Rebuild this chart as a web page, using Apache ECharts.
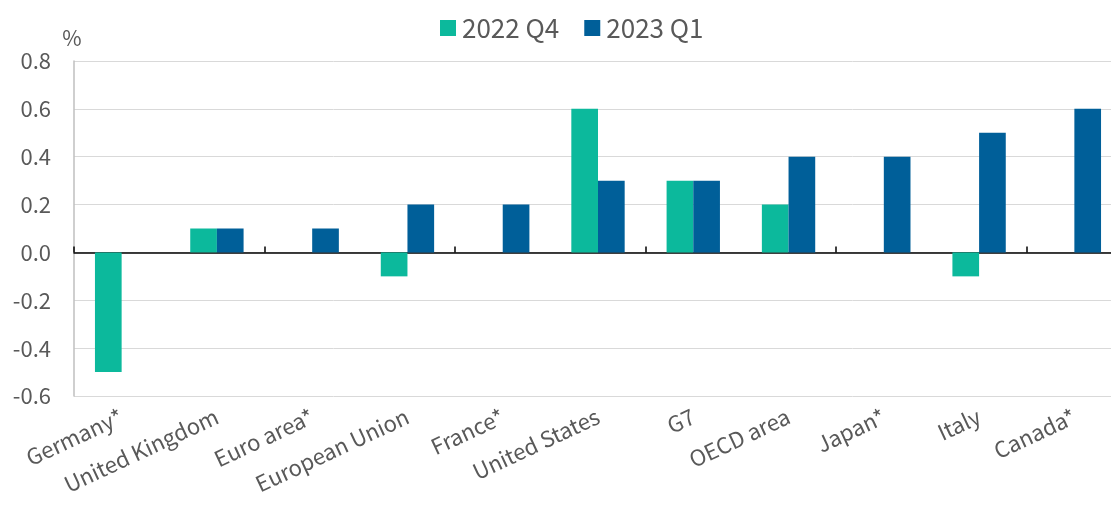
<!DOCTYPE html>
<html><head><meta charset="utf-8">
<script src="https://cdn.jsdelivr.net/npm/echarts@6/dist/echarts.min.js"></script>
<style>html,body{margin:0;padding:0;background:#fff}#c{width:1111px;height:506px}</style>
</head><body><div id="c"></div>
<script>
const categories = ["Germany*","United Kingdom","Euro area*","European Union","France*","United States","G7","OECD area","Japan*","Italy","Canada*"];
const q4_2022 = [-0.5, 0.1, 0, -0.1, 0, 0.6, 0.3, 0.2, 0, -0.1, 0];
const q1_2023 = [0, 0.1, 0.1, 0.2, 0.2, 0.3, 0.3, 0.4, 0.4, 0.5, 0.6];
const yTicks = { min: -0.6, max: 0.8, interval: 0.2 };
const font = '"Noto Sans CJK JP","Noto Sans",sans-serif';
const txt = '#595959';
const chart = echarts.init(document.getElementById('c'));
chart.setOption({
  animation: false,
  textStyle: { fontFamily: font },
  legend: {
    top: 15, left: 440, padding: 0, itemWidth: 16, itemHeight: 16, itemGap: 25,
    icon: 'rect',
    textStyle: { fontSize: 26, color: txt, fontFamily: font, padding: [0, 0, 0, 1] },
    data: ['2022 Q4', '2023 Q1']
  },
  grid: { left: 74, width: 1048, top: 61, bottom: 110, containLabel: false, outerBoundsMode: 'none' },
  xAxis: [{
    type: 'category', data: categories, position: 'bottom',
    axisLine: { show: false, onZero: false }, axisTick: { show: false },
    axisLabel: { rotate: 25, fontSize: 22, color: txt, fontFamily: font, margin: 19, interval: 0 }
  }, {
    type: 'category', data: categories, position: 'top',
    axisLine: { show: true, onZero: true, lineStyle: { color: '#000', width: 1.5 } },
    axisTick: { show: true, inside: false, length: 6, lineStyle: { color: '#000', width: 1.5 } },
    axisLabel: { show: false }
  }],
  yAxis: {
    type: 'value', min: yTicks.min, max: yTicks.max, interval: yTicks.interval,
    name: '%', nameLocation: 'end', nameGap: 12,
    nameTextStyle: { fontSize: 21, color: txt, align: 'center', padding: [0, 0, 0, -4] },
    axisLine: { show: true, lineStyle: { color: '#BFBFBF', width: 1.5 } },
    axisTick: { show: false },
    splitLine: { lineStyle: { color: '#D9D9D9', width: 1 } },
    axisLabel: { fontSize: 22, color: txt, margin: 23, formatter: v => v.toFixed(1) }
  },
  series: [{
    name: '2022 Q4', type: 'bar', data: q4_2022, xAxisIndex: 0,
    itemStyle: { color: '#0CB99C' }, barGap: '0%', barCategoryGap: '44%'
  }, {
    name: '2023 Q1', type: 'bar', data: q1_2023, xAxisIndex: 0,
    itemStyle: { color: '#005F99' }, barGap: '0%', barCategoryGap: '44%'
  }]
});
</script></body></html>
